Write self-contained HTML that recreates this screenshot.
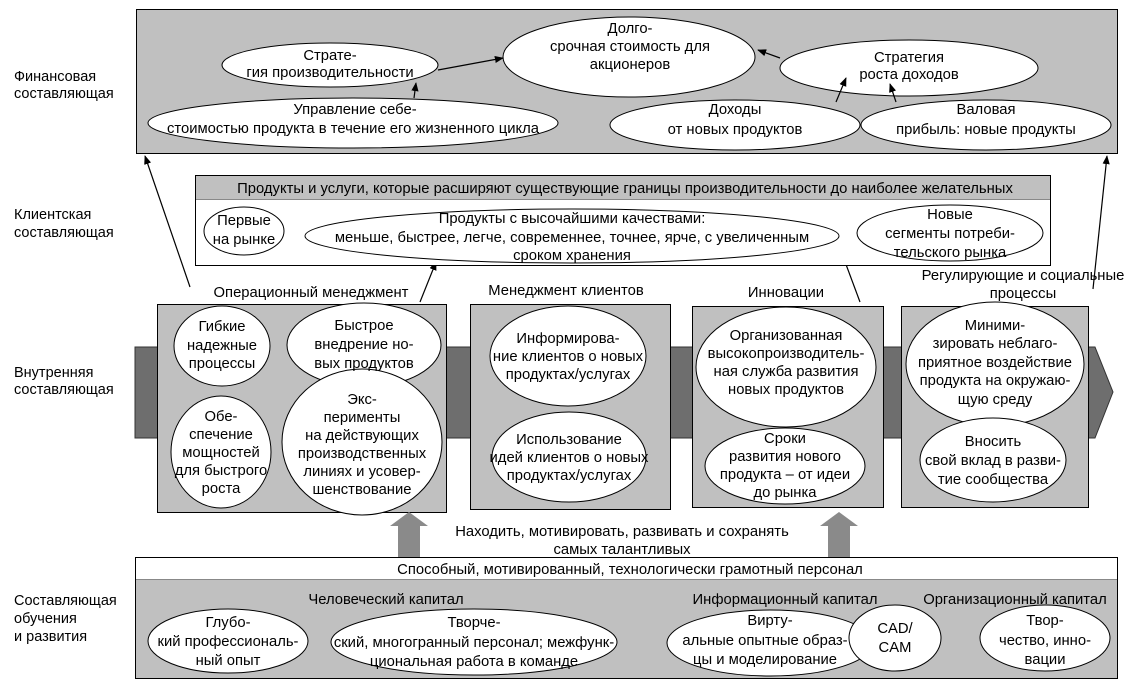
<!DOCTYPE html>
<html><head><meta charset="utf-8"><style>
html,body{margin:0;padding:0;background:#fff;}
svg{display:block;}
text{font-family:"Liberation Sans",Arial,sans-serif;font-size:14.8px;fill:#000;}
.l{font-size:14.5px;}
.c{text-anchor:middle;}
</style></head><body>
<svg width="1128" height="686" viewBox="0 0 1128 686" xmlns="http://www.w3.org/2000/svg">
<defs>
<marker id="ah" viewBox="0 0 10 10" refX="9" refY="5" markerWidth="9" markerHeight="9" orient="auto-start-reverse" markerUnits="userSpaceOnUse"><path d="M0,1 L10,5 L0,9 z" fill="#000"/></marker>
</defs>
<text class="l" x="14" y="81">Финансовая</text><text class="l" x="14" y="98">составляющая</text>
<text class="l" x="14" y="219">Клиентская</text><text class="l" x="14" y="237">составляющая</text>
<text class="l" x="14" y="377">Внутренняя</text><text class="l" x="14" y="394">составляющая</text>
<text class="l" x="14" y="605">Составляющая</text><text class="l" x="14" y="623">обучения</text><text class="l" x="14" y="641">и развития</text>

<rect x="136.5" y="9.5" width="981" height="144" fill="#c0c0c0" stroke="#000"/>
<g fill="#fff" stroke="#000">
<ellipse cx="330" cy="65" rx="108" ry="22"/>
<ellipse cx="629" cy="57" rx="126" ry="40"/>
<ellipse cx="909" cy="68" rx="129" ry="28"/>
<ellipse cx="353" cy="123" rx="205" ry="25"/>
<ellipse cx="735" cy="125" rx="125" ry="25"/>
<ellipse cx="986" cy="125" rx="125" ry="25"/>
</g>
<g stroke="#000" stroke-width="1.2" fill="none" marker-end="url(#ah)">
<line x1="438" y1="70" x2="503" y2="58"/>
<line x1="414" y1="98" x2="416" y2="83"/>
<line x1="780" y1="58" x2="758" y2="50"/>
<line x1="836" y1="102" x2="846" y2="78"/>
<line x1="896" y1="102" x2="890" y2="84"/>
<line x1="190" y1="287" x2="145" y2="156"/>
<line x1="1093" y1="289" x2="1107" y2="156"/>
<line x1="420" y1="302" x2="436" y2="262"/>
<line x1="860" y1="302" x2="841" y2="251"/>
</g>
<text class="c" x="630" y="33">Долго-</text>
<text class="c" x="630" y="51">срочная стоимость для</text>
<text class="c" x="630" y="69">акционеров</text>
<text class="c" x="330" y="60">Страте-</text>
<text class="c" x="330" y="77">гия производительности</text>
<text class="c" x="909" y="62">Стратегия</text>
<text class="c" x="909" y="79">роста доходов</text>
<text class="c" x="355" y="114">Управление себе-</text>
<text class="c" x="353" y="133">стоимостью продукта в течение его жизненного цикла</text>
<text class="c" x="735" y="114">Доходы</text>
<text class="c" x="735" y="134">от новых продуктов</text>
<text class="c" x="986" y="114">Валовая</text>
<text class="c" x="986" y="134">прибыль: новые продукты</text>

<rect x="195.5" y="175.5" width="855" height="90" fill="#fff" stroke="#000"/>
<rect x="196" y="176" width="854" height="23" fill="#c0c0c0"/>
<line x1="196" y1="199.5" x2="1050" y2="199.5" stroke="#888"/>
<text class="c" x="625" y="193">Продукты и услуги, которые расширяют существующие границы производительности до наиболее желательных</text>
<g fill="#fff" stroke="#000">
<ellipse cx="244" cy="231" rx="40" ry="24"/>
<ellipse cx="572" cy="236" rx="267" ry="27"/>
<ellipse cx="950" cy="233" rx="93" ry="28"/>
</g>
<text class="c" x="244" y="225">Первые</text><text class="c" x="244" y="244">на рынке</text>
<text class="c" x="572" y="223">Продукты с высочайшими качествами:</text>
<text class="c" x="572" y="242">меньше, быстрее, легче, современнее, точнее, ярче, с увеличенным</text>
<text class="c" x="572" y="260">сроком хранения</text>
<text class="c" x="950" y="219">Новые</text><text class="c" x="950" y="238">сегменты потреби-</text><text class="c" x="950" y="257">тельского рынка</text>

<text class="c" x="311" y="297">Операционный менеджмент</text>
<text class="c" x="566" y="295">Менеджмент клиентов</text>
<text class="c" x="786" y="297">Инновации</text>
<text class="c" x="1023" y="280">Регулирующие и социальные</text>
<text class="c" x="1023" y="298">процессы</text>

<polygon points="135,347 1095,347 1113,392 1095,438 135,438" fill="#6e6e6e" stroke="#333"/>

<g fill="#c0c0c0" stroke="#000">
<rect x="157.5" y="304.5" width="289" height="208"/>
<rect x="470.5" y="304.5" width="200" height="205"/>
<rect x="692.5" y="306.5" width="191" height="201"/>
<rect x="901.5" y="306.5" width="187" height="201"/>
</g>
<g fill="#fff" stroke="#000">
<ellipse cx="222" cy="346" rx="48" ry="40"/>
<ellipse cx="364" cy="345" rx="77" ry="42"/>
<ellipse cx="221" cy="452" rx="50" ry="56"/>
<ellipse cx="362" cy="442" rx="80" ry="73"/>
<ellipse cx="568" cy="356" rx="78" ry="50"/>
<ellipse cx="569" cy="457" rx="77" ry="45"/>
<ellipse cx="786" cy="367" rx="90" ry="60"/>
<ellipse cx="785" cy="466" rx="80" ry="38"/>
<ellipse cx="995" cy="364" rx="89" ry="62"/>
<ellipse cx="993" cy="460" rx="73" ry="42"/>
</g>
<text class="c" x="222" y="331">Гибкие</text><text class="c" x="222" y="350">надежные</text><text class="c" x="222" y="368">процессы</text>
<text class="c" x="364" y="330">Быстрое</text><text class="c" x="364" y="349">внедрение но-</text><text class="c" x="364" y="368">вых продуктов</text>
<text class="c" x="221" y="421">Обе-</text><text class="c" x="221" y="439">спечение</text><text class="c" x="221" y="457">мощностей</text><text class="c" x="221" y="475">для быстрого</text><text class="c" x="221" y="493">роста</text>
<text class="c" x="362" y="404">Экс-</text><text class="c" x="362" y="422">перименты</text><text class="c" x="362" y="440">на действующих</text><text class="c" x="362" y="458">производственных</text><text class="c" x="362" y="476">линиях и усовер-</text><text class="c" x="362" y="494">шенствование</text>
<text class="c" x="568" y="343">Информирова-</text><text class="c" x="568" y="361">ние клиентов о новых</text><text class="c" x="568" y="379">продуктах/услугах</text>
<text class="c" x="569" y="444">Использование</text><text class="c" x="569" y="462">идей клиентов о новых</text><text class="c" x="569" y="480">продуктах/услугах</text>
<text class="c" x="786" y="340">Организованная</text><text class="c" x="786" y="358">высокопроизводитель-</text><text class="c" x="786" y="376">ная служба развития</text><text class="c" x="786" y="394">новых продуктов</text>
<text class="c" x="785" y="443">Сроки</text><text class="c" x="785" y="461">развития нового</text><text class="c" x="785" y="479">продукта – от идеи</text><text class="c" x="785" y="497">до рынка</text>
<text class="c" x="995" y="330">Миними-</text><text class="c" x="995" y="348">зировать неблаго-</text><text class="c" x="995" y="367">приятное воздействие</text><text class="c" x="995" y="385">продукта на окружаю-</text><text class="c" x="995" y="404">щую среду</text>
<text class="c" x="993" y="446">Вносить</text><text class="c" x="993" y="465">свой вклад в разви-</text><text class="c" x="993" y="484">тие сообщества</text>

<polygon points="398,558 398,526 390,526 409,512 428,526 420,526 420,558" fill="#8a8a8a"/>
<polygon points="828,558 828,526 820,526 839,512 858,526 850,526 850,558" fill="#8a8a8a"/>
<text class="c" x="622" y="536">Находить, мотивировать, развивать и сохранять</text>
<text class="c" x="622" y="554">самых талантливых</text>

<rect x="135.5" y="557.5" width="982" height="121" fill="#c0c0c0" stroke="#000"/>
<rect x="136" y="558" width="981" height="21" fill="#fff"/>
<line x1="136" y1="579.5" x2="1117" y2="579.5" stroke="#888"/>
<text class="c" x="630" y="574">Способный, мотивированный, технологически грамотный персонал</text>
<text class="c" x="386" y="604">Человеческий капитал</text>
<text class="c" x="785" y="604">Информационный капитал</text>
<text class="c" x="1015" y="604">Организационный капитал</text>
<g fill="#fff" stroke="#000">
<ellipse cx="228" cy="641" rx="80" ry="32"/>
<ellipse cx="474" cy="642" rx="143" ry="33"/>
<ellipse cx="770" cy="643" rx="103" ry="33"/>
<ellipse cx="895" cy="638" rx="46" ry="33"/>
<ellipse cx="1045" cy="638" rx="65" ry="33"/>
</g>
<text class="c" x="228" y="627">Глубо-</text><text class="c" x="228" y="646">кий профессиональ-</text><text class="c" x="228" y="665">ный опыт</text>
<text class="c" x="474" y="627">Творче-</text><text class="c" x="474" y="647">ский, многогранный персонал; межфунк-</text><text class="c" x="474" y="666">циональная работа в команде</text>
<text class="c" x="770" y="625">Вирту-</text><text class="c" x="765" y="645">альные опытные образ-</text><text class="c" x="765" y="664">цы и моделирование</text>
<text class="c" x="895" y="633">CAD/</text><text class="c" x="895" y="652">CAM</text>
<text class="c" x="1045" y="625">Твор-</text><text class="c" x="1045" y="645">чество, инно-</text><text class="c" x="1045" y="664">вации</text>
</svg>
</body></html>
